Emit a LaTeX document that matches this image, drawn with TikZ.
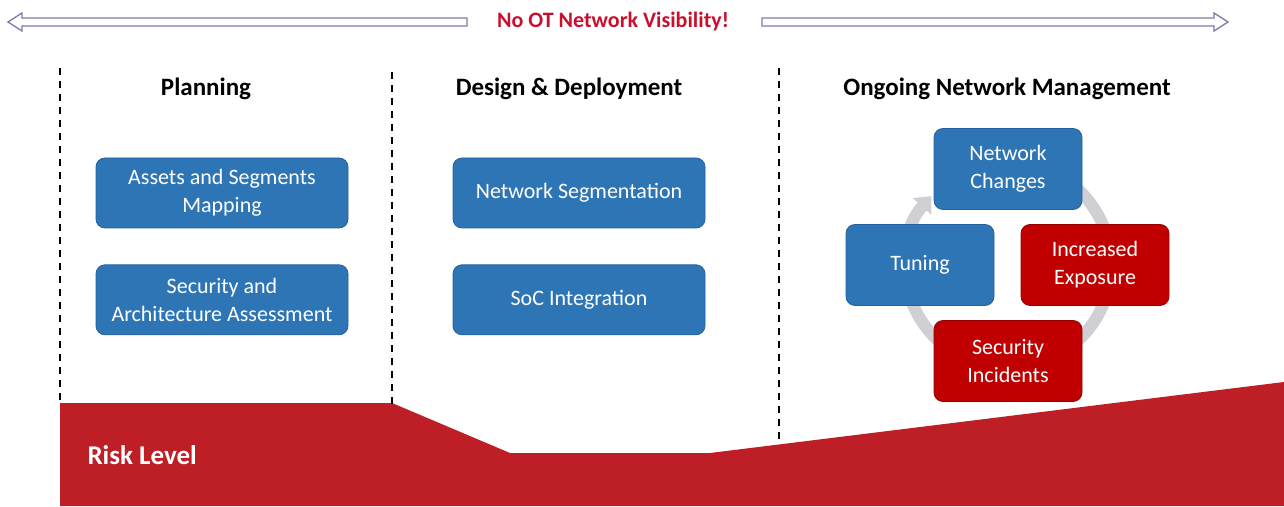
\documentclass[tikz,border=0pt]{standalone}
\usepackage{fontspec}
\setmainfont{Carlito}
\usetikzlibrary{arrows.meta,positioning}

\definecolor{boxblue}{RGB}{46,117,182}
\definecolor{boxblueline}{RGB}{36,96,156}
\definecolor{boxred}{RGB}{192,0,0}
\definecolor{boxredline}{RGB}{150,0,0}
\definecolor{riskred}{RGB}{190,30,38}
\definecolor{titlered}{RGB}{200,16,46}
\definecolor{ringgray}{RGB}{208,208,212}
\definecolor{arrowline}{RGB}{125,120,170}

\begin{document}
\begin{tikzpicture}[
    x=1pt,y=1pt,
    every node/.style={align=center,font=\fontsize{22}{28}\selectfont},
    heading/.style={font=\fontsize{25}{30}\selectfont\bfseries},
    bluebox/.style={rectangle,rounded corners=9pt,draw=boxblueline,fill=boxblue,text=white,thick,minimum width=252pt,minimum height=70pt},
    cyclebox/.style={rectangle,rounded corners=9pt,draw=boxblueline,fill=boxblue,text=white,thick,minimum width=148pt,minimum height=81pt},
    redbox/.style={cyclebox,draw=boxredline,fill=boxred},
    divider/.style={black,dashed,line width=1.6pt,dash pattern=on 7pt off 6pt},
    hollowarrow/.style={draw=arrowline,fill=white,line width=1.3pt,line join=miter},
    ring/.style={ringgray,line width=12pt,-{Triangle[width=24pt,length=14pt]}}
]
\useasboundingbox (0,0) rectangle (1284,506);

% =====================
% VISIBILITY BANNER
% =====================
\node[font=\fontsize{22}{26}\selectfont\bfseries,text=titlered] (banner) at (613,484) {No OT Network Visibility!};

\draw[hollowarrow] (467,480) -- (22,480) -- (22,475) -- (8,484) -- (22,493) -- (22,488) -- (467,488) -- cycle;
\draw[hollowarrow] (762,480) -- (1214,480) -- (1214,475) -- (1228,484) -- (1214,493) -- (1214,488) -- (762,488) -- cycle;

% =====================
% RISK LEVEL
% =====================
\fill[riskred] (60,103) -- (392,103) -- (510,53) -- (710,53) -- (1284,124) -- (1284,0) -- (60,0) -- cycle;
\node[font=\fontsize{27}{30}\selectfont\bfseries,text=white,anchor=west] (risk) at (84,51) {Risk Level};

% =====================
% PHASE DIVIDERS
% =====================
\coordinate (d1top) at (60,438);
\coordinate (d1bot) at (60,103);
\coordinate (d2top) at (392,434);
\coordinate (d2bot) at (392,101);
\coordinate (d3top) at (779,438);
\coordinate (d3bot) at (779,62);
\draw[divider] (d1top) -- (d1bot);
\draw[divider] (d2top) -- (d2bot);
\draw[divider] (d3top) -- (d3bot);

% =====================
% PLANNING
% =====================
\node[heading] (planning) at (206,417) {Planning};
\node[bluebox] (assets) at (222,313) {Assets and Segments\\Mapping};
\node[bluebox,below=36pt of assets] (assess) {Security and\\Architecture Assessment};

% =====================
% DESIGN & DEPLOYMENT
% =====================
\node[heading] (design) at (569,417) {Design \& Deployment};
\node[bluebox] (segment) at (579,313) {Network Segmentation};
\node[bluebox,below=36pt of segment] (soc) {SoC Integration};

% =====================
% ONGOING MANAGEMENT
% =====================
\node[heading] (ongoing) at (1007,417) {Ongoing Network Management};

\draw[ring] (1008,241) ++(485:103) arc[start angle=485,end angle=138,radius=103];

\node[cyclebox] (changes) at (1008,337) {Network\\Changes};
\node[cyclebox] (tuning) at (920,241) {Tuning};
\node[redbox] (exposure) at (1095,241) {Increased\\Exposure};
\node[redbox] (incidents) at (1008,145) {Security\\Incidents};

\end{tikzpicture}
\end{document}
